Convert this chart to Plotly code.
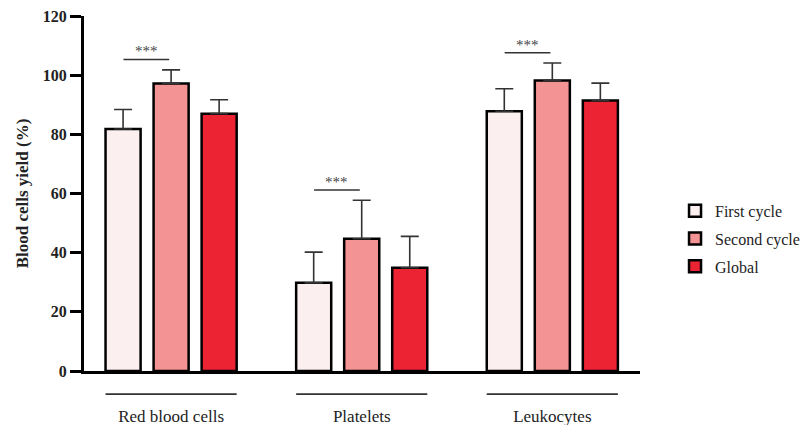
import plotly.graph_objects as go

categories = ["Red blood cells", "Platelets", "Leukocytes"]
series_names = ["First cycle", "Second cycle", "Global"]
first_cycle = [81.8, 29.8, 87.8]
first_err = [6.6, 10.4, 7.6]
second_cycle = [97.2, 44.7, 98.2]
second_err = [4.6, 13.0, 5.9]
global_vals = [87.0, 34.9, 91.4]
global_err = [4.7, 10.6, 5.9]
significance = ["***", "***", "***"]
y_ticks = [0, 20, 40, 60, 80, 100, 120]

colors = ["#FCEFEF", "#F49393", "#EC2333"]
values = [first_cycle, second_cycle, global_vals]
errors = [first_err, second_err, global_err]

FONT = "Liberation Serif"

fig = go.Figure()
for i, (name, vals, errs) in enumerate(zip(series_names, values, errors)):
    fig.add_trace(go.Bar(
        x=categories, y=vals, name=name, legendgroup=name,
        marker=dict(color=colors[i], line=dict(color="black", width=2.5)),
        error_y=dict(type="data", array=errs, arrayminus=[0] * len(errs),
                     symmetric=False, color="#333333", thickness=1.6, width=9),
    ))

# group underlines below the axis
for i, _ in enumerate(categories):
    fig.add_shape(type="line", xref="x", yref="paper",
                  x0=i - 0.344, x1=i + 0.344, y0=-0.065, y1=-0.065,
                  line=dict(color="#333333", width=1.6))

# significance brackets between first and second cycle
for i, _ in enumerate(categories):
    top = max(first_cycle[i] + first_err[i], second_cycle[i] + second_err[i])
    ys = top + 3.5
    fig.add_shape(type="line", xref="x", yref="y",
                  x0=i - 0.25, x1=i - 0.01, y0=ys, y1=ys,
                  line=dict(color="#333333", width=1.6))
    fig.add_annotation(x=i - 0.13, y=ys, xref="x", yref="y",
                       text=significance[i], showarrow=False,
                       yanchor="bottom", yshift=-2,
                       font=dict(family=FONT, size=15, color="#444444"))

fig.update_layout(
    width=802, height=417,
    margin=dict(l=76, r=170, t=8, b=54, autoexpand=False),
    paper_bgcolor="white", plot_bgcolor="white",
    barmode="group", bargap=0.244, bargroupgap=0.27,
    font=dict(family=FONT, size=17, color="#222222"),
    legend=dict(x=1.063, xanchor="left", y=0.499, yanchor="top",
                tracegroupgap=4, font=dict(family=FONT, size=16, color="#222222")),
    showlegend=True,
)
fig.update_xaxes(
    range=[-0.457, 2.46], showline=True, linecolor="black", linewidth=3,
    ticks="", showgrid=False, zeroline=False, automargin=False,
    ticklabelstandoff=28,
    tickfont=dict(family=FONT, size=17, color="#222222"),
)
fig.update_yaxes(
    range=[0, 120], tickvals=y_ticks, showline=True, linecolor="black", linewidth=3,
    ticks="outside", ticklen=11, tickwidth=3, tickcolor="black",
    showgrid=False, zeroline=False, automargin=False,
    ticklabeloverflow="allow",
    tickfont=dict(family=FONT, size=16, color="#222222", weight="bold"),
    title=dict(text="Blood cells yield (%)", standoff=10,
               font=dict(family=FONT, size=17, color="#222222", weight="bold")),
)

fig.write_html("out.html")
